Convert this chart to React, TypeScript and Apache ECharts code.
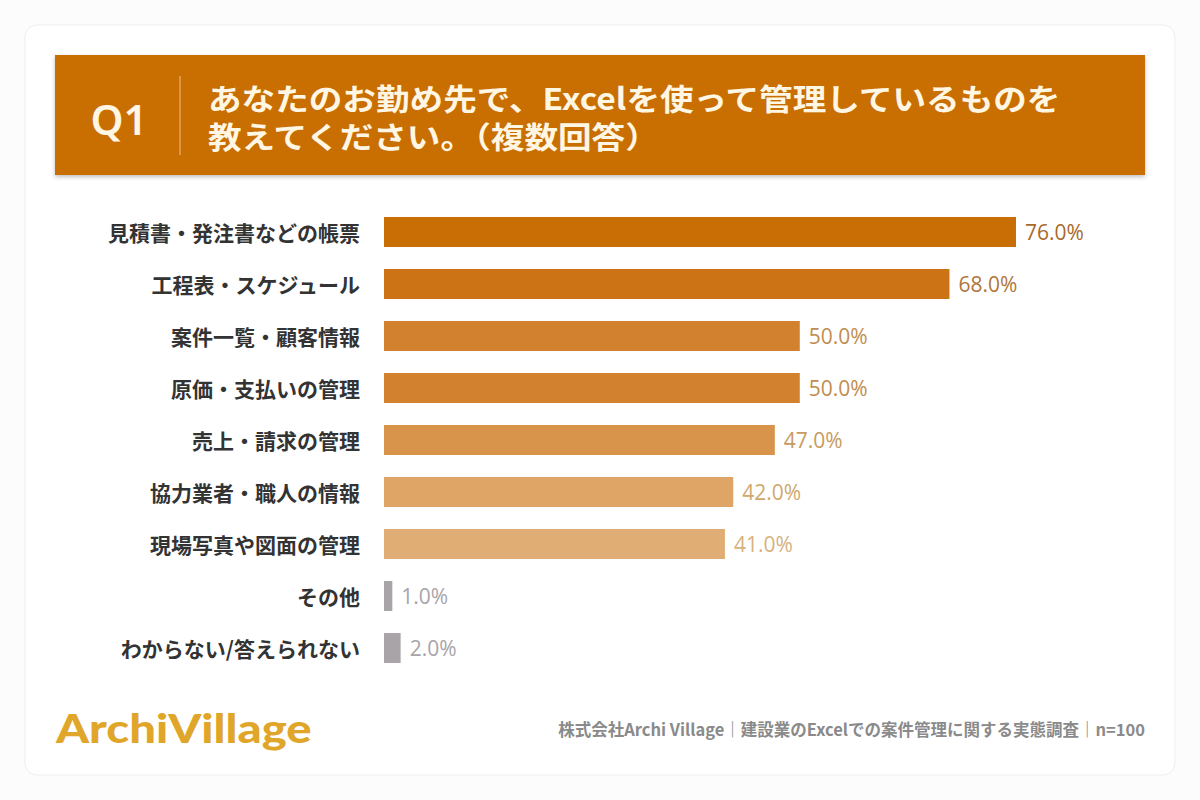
import React, { useEffect, useRef } from "react";
import * as echarts from "echarts";

const categories = [
  "見積書・発注書などの帳票",
  "工程表・スケジュール",
  "案件一覧・顧客情報",
  "原価・支払いの管理",
  "売上・請求の管理",
  "協力業者・職人の情報",
  "現場写真や図面の管理",
  "その他",
  "わからない/答えられない",
];
const values = [76, 68, 50, 50, 47, 42, 41, 1, 2];
const barColors = ["#C96E05", "#CC7415", "#D2812E", "#D2812E", "#D9944C", "#DEA566", "#E0AE74", "#A9A4A8", "#A9A4A8"];
const labelColors = ["#A8692A", "#B0763A", "#C08D4E", "#C08D4E", "#C99A60", "#D0A86E", "#D6B27E", "#A8A4A8", "#A8A4A8"];

const titleLines = ["あなたのお勤め先で、Excelを使って管理しているものを", "教えてください。（複数回答）"];
const footerText = "株式会社Archi Village｜建設業のExcelでの案件管理に関する実態調査｜n=100";

export default function App() {
  const ref = useRef<HTMLDivElement>(null);
  useEffect(() => {
    if (!ref.current) return;
    const chart = echarts.init(ref.current, null, { renderer: "svg" });
    const jp = "'Noto Sans CJK JP', 'Noto Sans', sans-serif";
    chart.setOption({
      animation: false,
      backgroundColor: "#FCFCFC",
      grid: { left: 384, top: 206, width: 748.4, height: 468, containLabel: false },
      xAxis: {
        type: "value",
        min: 0,
        max: 90,
        show: false,
      },
      yAxis: {
        type: "category",
        data: categories,
        inverse: true,
        axisLine: { show: false },
        axisTick: { show: false },
        axisLabel: {
          margin: 24,
          color: "#333333",
          fontSize: 21,
          fontWeight: "bold",
          fontFamily: jp,
        },
      },
      graphic: [
        {
          type: "rect",
          z: -10,
          shape: { x: 25, y: 25, width: 1150, height: 750, r: 12 },
          style: { fill: "#FFFFFF", stroke: "#EFEFEF", lineWidth: 1 },
        },
        {
          type: "rect",
          z: -5,
          shape: { x: 55, y: 55, width: 1090, height: 120 },
          style: {
            fill: "#C96E05",
            shadowBlur: 4,
            shadowOffsetY: 2,
            shadowColor: "rgba(0,0,0,0.25)",
          },
        },
        {
          type: "text",
          x: 119,
          y: 118,
          style: {
            text: "Q1",
            fill: "#FFF6E3",
            font: "600 42px 'Noto Sans', sans-serif",
            align: "center",
            verticalAlign: "middle",
          },
        },
        {
          type: "line",
          shape: { x1: 180, y1: 76, x2: 180, y2: 155 },
          style: { stroke: "#F1C088", lineWidth: 1 },
        },
        {
          type: "text",
          x: 208,
          y: 116,
          scaleX: 1.12,
          style: {
            text: titleLines.join("\n"),
            fill: "#FFF6E3",
            font: "bold 30px " + jp,
            lineHeight: 38,
            verticalAlign: "middle",
          },
        },
        {
          type: "text",
          x: 56,
          y: 727,
          scaleX: 1.18,
          style: {
            text: "ArchiVillage",
            fill: "#DFA62A",
            font: "900 40px 'Lato', 'Noto Sans', sans-serif",
            verticalAlign: "middle",
          },
        },
        {
          type: "text",
          x: 1145,
          y: 729,
          style: {
            text: footerText,
            fill: "#8A8A8A",
            font: "bold 16.5px " + jp,
            align: "right",
            verticalAlign: "middle",
          },
        },
      ],
      series: [
        {
          type: "bar",
          barWidth: 30,
          data: values.map((v, i) => ({
            value: v,
            itemStyle: { color: barColors[i] },
            label: { color: labelColors[i] },
          })),
          label: {
            show: true,
            position: "right",
            distance: 9,
            fontSize: 21,
            fontFamily: "'Open Sans', sans-serif",
            formatter: (p: any) => Number(p.value).toFixed(1) + "%",
          },
        },
      ],
    });
    return () => chart.dispose();
  }, []);
  return (
    <div
      ref={ref}
      style={{ position: "fixed", left: 0, top: 0, width: 1200, height: 800 }}
    />
  );
}
